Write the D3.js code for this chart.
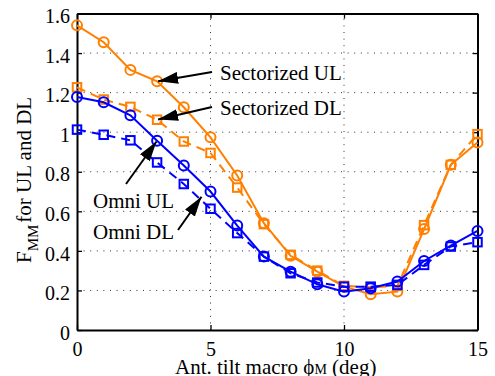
<!DOCTYPE html>
<html>
<head>
<meta charset="utf-8">
<script src="https://cdn.jsdelivr.net/npm/d3@7"></script>
<style>
  html, body { margin: 0; padding: 0; background: #fff; }
  svg text { font-family: "Liberation Serif", "Times New Roman", serif; fill: #000; }
</style>
</head>
<body>
<svg id="chart" width="495" height="376"></svg>
<script>
// Antenna tilt (degrees)
const tilt = [0, 1, 2, 3, 4, 5, 6, 7, 8, 9, 10, 11, 12, 13, 14, 15];

// F_MM per configuration
const sectorizedUL = [1.54, 1.455, 1.315, 1.257, 1.126, 0.974, 0.781, 0.540, 0.375, 0.295, 0.219, 0.181, 0.194, 0.510, 0.835, 0.948];
const sectorizedDL = [1.227, 1.165, 1.128, 1.063, 0.953, 0.895, 0.720, 0.535, 0.380, 0.300, 0.223, 0.216, 0.223, 0.530, 0.835, 0.990];
const omniUL = [1.178, 1.151, 1.085, 0.957, 0.832, 0.700, 0.528, 0.371, 0.295, 0.231, 0.194, 0.211, 0.245, 0.349, 0.427, 0.501];
const omniDL = [1.013, 0.987, 0.959, 0.847, 0.738, 0.613, 0.490, 0.371, 0.287, 0.240, 0.219, 0.219, 0.228, 0.329, 0.422, 0.444];

const xTicks = [0, 5, 10, 15];
const yTicks = [0, 0.2, 0.4, 0.6, 0.8, 1, 1.2, 1.4, 1.6];

const series = [
  { name: "Sectorized UL", values: sectorizedUL, color: "#ff8000", dash: null, marker: "circle" },
  { name: "Sectorized DL", values: sectorizedDL, color: "#ff8000", dash: "9,6", marker: "square" },
  { name: "Omni UL", values: omniUL, color: "#0000ff", dash: null, marker: "circle" },
  { name: "Omni DL", values: omniDL, color: "#0000ff", dash: "9,6", marker: "square" }
];

// Callout labels: text position, arrow tail and the data point the arrow targets
const callouts = [
  { text: "Sectorized UL", tx: 220, ty: 80, from: [212, 72], series: 0, at: 3 },
  { text: "Sectorized DL", tx: 220, ty: 115, from: [212, 107], series: 1, at: 3 },
  { text: "Omni UL", tx: 93, ty: 208, from: [126, 184], series: 2, at: 3 },
  { text: "Omni DL", tx: 93, ty: 239, from: [178, 230], series: 3, at: 5, offset: [-9, -12] }
];

const plotLeft = 77, plotRight = 477.5, plotTop = 13.5, plotBottom = 330;
const x = d3.scaleLinear().domain([0, 15]).range([plotLeft, plotRight]);
const y = d3.scaleLinear().domain([0, 1.6]).range([plotBottom, plotTop]);

const svg = d3.select("#chart");

// Dotted grid
const grid = svg.append("g").attr("stroke", "#333").attr("stroke-width", 1).attr("stroke-dasharray", "1,5.6");
grid.selectAll(".gx").data(xTicks.slice(1, -1)).join("line")
  .attr("x1", d => x(d)).attr("x2", d => x(d)).attr("y1", plotBottom).attr("y2", plotTop);
grid.selectAll(".gy").data(yTicks.slice(1, -1)).join("line")
  .attr("x1", plotLeft).attr("x2", plotRight).attr("y1", d => y(d)).attr("y2", d => y(d));

// Axes with inward ticks on all four sides
const fontSize = 21;
const tickFont = 20;
const axisBottom = svg.append("g").attr("transform", `translate(0,${plotBottom})`)
  .call(d3.axisBottom(x).tickValues(xTicks).tickSizeInner(-5).tickSizeOuter(0).tickPadding(10).tickFormat(d3.format("d")));
const axisTop = svg.append("g").attr("transform", `translate(0,${plotTop})`)
  .call(d3.axisTop(x).tickValues(xTicks).tickSizeInner(-5).tickSizeOuter(0).tickFormat(""));
const axisLeft = svg.append("g").attr("transform", `translate(${plotLeft},0)`)
  .call(d3.axisLeft(y).tickValues(yTicks).tickSizeInner(-5).tickSizeOuter(0).tickPadding(7).tickFormat(d => String(+d.toFixed(1))));
const axisRight = svg.append("g").attr("transform", `translate(${plotRight},0)`)
  .call(d3.axisRight(y).tickValues(yTicks).tickSizeInner(-5).tickSizeOuter(0).tickFormat(""));

[axisBottom, axisTop, axisLeft, axisRight].forEach(g => {
  g.select(".domain").attr("stroke", "#000").attr("stroke-width", 2);
  g.selectAll(".tick line").attr("stroke", "#000").attr("stroke-width", 1.3);
  g.selectAll("text").attr("font-size", tickFont).attr("font-family", "Liberation Serif, serif").attr("fill", "#000");
});
axisLeft.selectAll("text").attr("dy", "0.46em");
axisBottom.selectAll("text").attr("dy", "0.8em");

// Series lines and markers
const line = d3.line().x((d, i) => x(tilt[i])).y(d => y(d));
series.forEach(s => {
  const g = svg.append("g");
  g.append("path").datum(s.values)
    .attr("d", line)
    .attr("fill", "none")
    .attr("stroke", s.color)
    .attr("stroke-width", 2)
    .attr("stroke-dasharray", s.dash);
  if (s.marker === "circle") {
    g.selectAll("circle").data(s.values).join("circle")
      .attr("cx", (d, i) => x(tilt[i])).attr("cy", d => y(d)).attr("r", 5)
      .attr("fill", "none").attr("stroke", s.color).attr("stroke-width", 2);
  } else {
    const sz = 8.5;
    g.selectAll("rect").data(s.values).join("rect")
      .attr("x", (d, i) => x(tilt[i]) - sz / 2).attr("y", d => y(d) - sz / 2)
      .attr("width", sz).attr("height", sz)
      .attr("fill", "none").attr("stroke", s.color).attr("stroke-width", 2);
  }
});

// Callouts with arrows
svg.append("defs").append("marker")
  .attr("id", "arrowhead").attr("viewBox", "0 0 20 12")
  .attr("refX", 20).attr("refY", 6)
  .attr("markerWidth", 20).attr("markerHeight", 12)
  .attr("markerUnits", "userSpaceOnUse")
  .attr("orient", "auto")
  .append("path").attr("d", "M0,0 L20,6 L0,12 Z").attr("fill", "#000");

callouts.forEach(c => {
  const s = series[c.series];
  const off = c.offset || [0, 0];
  const px = x(tilt[c.at]) + off[0], py = y(s.values[c.at]) + off[1];
  const dx = px - c.from[0], dy = py - c.from[1];
  const len = Math.hypot(dx, dy);
  const stop = c.offset ? 0 : 1;
  svg.append("line")
    .attr("x1", c.from[0]).attr("y1", c.from[1])
    .attr("x2", px - dx / len * stop).attr("y2", py - dy / len * stop)
    .attr("stroke", "#000").attr("stroke-width", 2)
    .attr("marker-end", "url(#arrowhead)");
  svg.append("text").attr("x", c.tx).attr("y", c.ty)
    .attr("font-size", fontSize).text(c.text);
});

// Axis titles
const xTitle = svg.append("text").attr("x", 175).attr("y", 374).attr("font-size", fontSize);
xTitle.append("tspan").text("Ant. tilt macro ϕ");
xTitle.append("tspan").attr("font-size", 14).text("M");
xTitle.append("tspan").attr("font-size", fontSize).text(" (deg)");

const yTitle = svg.append("text")
  .attr("transform", "translate(31,263) rotate(-90)")
  .attr("font-size", fontSize);
yTitle.append("tspan").text("F");
yTitle.append("tspan").attr("font-size", 15).attr("dy", 7).text("MM");
yTitle.append("tspan").attr("dy", -7).attr("dx", 2).text("for UL and DL");
</script>
</body>
</html>
